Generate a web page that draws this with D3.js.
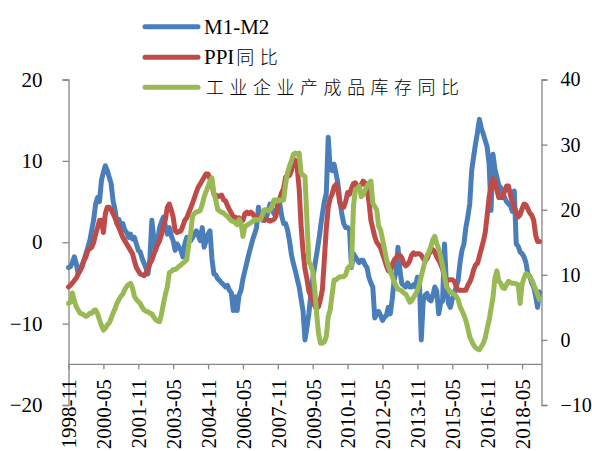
<!DOCTYPE html>
<html>
<head>
<meta charset="utf-8">
<script src="https://cdn.jsdelivr.net/npm/d3@7"></script>
<style>
  html, body { margin: 0; padding: 0; background: #fff; }
  svg { display: block; }
  .tick-label { font-family: "Liberation Serif", "DejaVu Serif", serif; fill: #000; }
</style>
</head>
<body>
<svg id="chart" width="592" height="451"></svg>
<script>
// Monthly series, 1998-11 through 2019-02
const startYear = 1998, startMonth = 11;

// M1 growth minus M2 growth (%), left axis
const m1m2 = [
  -3.1, -3.0,
  -2.5, -1.8, -2.6, -3.9, -3.2, -2.8, -2.2, -1.4, -0.6, 0.2, 1.5, 2.8,
  4.7, 5.5, 5.0, 7.6, 8.6, 9.4, 8.8, 8.0, 7.2, 5.1, 4.0, 2.3,
  2.8, 2.0, 2.3, 1.5, 1.2, 0.6, 1.0, 0.4, 0.6, -0.2, -1.0, -1.2,
  -2.0, -2.6, -3.2, -3.9, -2.0, 2.7, 0.5, -1.0, 0.2, 1.8, 2.5, 3.1,
  2.0, 1.0, 1.8, 0.8, 0.2, -1.0, -0.2, -0.6, -1.0, -1.8, -0.2, 0.6,
  0.2, 0.2, 0.6, 1.0, 1.4, 0.8, 0.2, 1.8, -0.6, 0.2, 1.0, 1.4,
  -2.0, -3.9, -4.0, -4.5, -4.7, -5.0, -5.2, -5.5, -5.3, -5.9, -6.2, -8.4,
  -6.7, -8.4, -6.5, -5.9, -4.5, -3.5, -2.5, -1.5, -0.6, 0.3, 1.0, 1.8,
  4.3, 3.0, 2.7, 2.7, 3.0, 3.8, 4.7, 4.0, 3.5, 3.8, 4.5, 4.7,
  3.2, 2.3, 2.3, 1.5, 0.2, -1.5, -2.6, -3.5, -4.5, -5.5, -7.0, -8.4,
  -12.0, -10.5, -8.8, -6.5, -4.5, -3.0, -1.5, 0.0, 1.8, 3.5, 5.0, 6.0,
  12.9, 9.0, 8.8, 9.6, 8.5, 7.2, 5.1, 3.5, 2.3, 1.8, 1.8, 1.5,
  -3.1, -1.4, -1.8, -2.2, -2.5, -2.2, -2.2, -2.8, -3.1, -4.3, -5.0, -5.5,
  -9.3, -8.8, -8.5, -9.0, -9.6, -9.2, -9.0, -8.0, -8.8, -7.0, -4.7, -3.6,
  -0.6, -3.5, -5.1, -5.3, -5.5, -5.0, -5.5, -5.5, -5.2, -5.5, -4.3, -4.5,
  -12.0, -7.2, -6.5, -6.3, -7.0, -7.2, -6.5, -5.5, -6.0, -8.8, -7.5, -7.2,
  -0.2, -5.5, -7.5, -8.0, -7.0, -6.3, -5.5, -4.7, -2.5, -1.0, -0.2, 1.8,
  3.1, 4.7, 8.8, 10.5, 12.1, 13.5, 15.1, 14.0, 13.3, 12.5, 11.7, 9.6,
  3.9, 10.8, 9.0, 8.0, 7.0, 6.7, 6.0, 5.5, 5.0, 4.7, 4.5, 3.8,
  6.3, -0.2, -0.5, -1.2, -1.4, -1.8, -2.5, -3.9, -4.2, -5.0, -5.5, -6.6,
  -8.0, -6.1
];

// PPI year-on-year (%), left axis
const ppi = [
  -5.5, -5.3,
  -5.0, -4.7, -4.4, -3.9, -3.5, -3.0, -2.2, -1.8, -1.0, -0.8, -0.6, 0.0,
  1.0, 1.8, 2.7, 2.7, 1.2, 3.5, 4.3, 4.3, 4.0, 3.5, 3.0, 2.3,
  1.8, 1.2, 0.6, 0.2, -0.2, -0.6, -1.0, -1.4, -2.3, -3.1, -3.5, -3.9,
  -4.0, -4.1, -3.8, -3.3, -2.6, -2.2, -1.5, -0.8, -0.3, 0.2, 1.0, 2.0,
  2.8, 4.3, 4.7, 4.0, 3.1, 1.4, 1.2, 1.3, 1.4, 2.0, 2.7, 3.0,
  3.6, 4.2, 4.8, 5.5, 6.2, 6.8, 7.2, 7.6, 8.0, 8.4, 8.4, 7.8,
  7.1, 5.9, 5.8, 5.6, 5.7, 5.8, 5.2, 5.1, 4.5, 4.0, 3.6, 3.1,
  3.1, 2.9, 3.0, 2.5, 2.7, 3.5, 3.7, 3.5, 3.7, 3.5, 3.1, 2.9,
  3.1, 3.3, 2.9, 2.7, 2.8, 2.7, 2.6, 2.7, 2.8, 3.2, 4.6, 5.4,
  6.1, 6.6, 8.0, 8.1, 8.2, 8.8, 10.0, 10.1, 9.1, 6.6, 2.0, -1.1,
  -3.3, -4.5, -6.0, -6.6, -7.2, -7.8, -8.2, -7.9, -7.0, -5.8, -2.1, 1.7,
  4.3, 5.4, 5.9, 6.8, 7.1, 6.4, 4.8, 4.3, 4.3, 5.0, 6.1, 5.9,
  6.6, 7.2, 7.3, 6.8, 6.8, 7.1, 7.5, 7.3, 6.5, 5.0, 2.7, 1.7,
  0.7, 0.0, -0.3, -0.7, -1.4, -2.1, -2.9, -3.5, -3.6, -2.8, -2.2, -1.9,
  -1.6, -1.6, -1.9, -2.6, -2.9, -2.7, -2.3, -1.6, -1.3, -1.5, -1.4, -1.4,
  -1.6, -2.0, -2.3, -2.0, -1.4, -1.1, -0.9, -1.2, -1.8, -2.2, -2.7, -3.3,
  -4.3, -4.8, -4.6, -4.6, -4.6, -4.8, -5.4, -5.9, -5.9, -5.9, -5.9, -5.9,
  -5.3, -4.9, -4.3, -3.4, -2.8, -2.6, -1.7, -0.8, 0.1, 1.2, 3.3, 5.5,
  6.9, 7.8, 7.6, 6.4, 5.5, 5.5, 5.5, 6.3, 6.9, 6.9, 5.8, 4.9,
  4.3, 3.7, 3.1, 3.4, 4.1, 4.7, 4.6, 4.1, 3.6, 3.3, 2.7, 0.9,
  0.1, 0.1
];

// Industrial finished-goods inventory year-on-year (%), right axis
const inventory = [
  5.6, 5.8,
  7.2, 6.0, 5.1, 4.6, 4.1, 4.0, 3.8, 3.6, 3.8, 4.1, 4.1, 4.5,
  4.6, 4.0, 3.1, 2.2, 1.5, 1.8, 2.3, 2.6, 3.3, 4.1, 4.8, 5.6,
  6.2, 6.7, 7.0, 7.7, 8.2, 8.5, 8.7, 8.0, 6.7, 6.2, 5.9, 5.6,
  5.0, 4.6, 4.4, 4.3, 4.1, 4.0, 3.5, 3.1, 2.9, 2.8, 4.0, 5.6,
  7.0, 8.2, 10.3, 10.5, 10.8, 10.8, 11.0, 11.3, 11.5, 11.8, 12.0, 12.3,
  14.5, 16.4, 19.0, 19.4, 19.7, 19.7, 19.9, 20.8, 22.0, 22.8, 23.6, 24.4,
  24.9, 22.5, 21.5, 20.0, 19.8, 19.6, 19.5, 19.2, 19.0, 18.6, 18.3, 18.2,
  18.0, 17.7, 18.5, 18.0, 15.9, 17.4, 17.6, 17.8, 18.0, 18.2, 18.5, 18.4,
  18.5, 18.5, 19.2, 20.0, 20.0, 19.8, 20.0, 20.5, 21.5, 21.5, 21.3, 21.5,
  21.4, 21.5, 24.0, 25.6, 26.7, 27.5, 28.5, 28.7, 28.5, 28.7, 25.6, 25.3,
  25.1, 18.5, 12.0, 11.5, 10.5, 8.0, 4.1, 1.0, -0.5, -0.5, -0.3, 0.5,
  3.6, 4.6, 7.0, 9.2, 9.2, 9.5, 9.7, 9.7, 9.7, 10.0, 11.0, 11.3,
  11.3, 20.5, 23.1, 23.3, 23.6, 22.0, 22.3, 23.0, 23.6, 24.1, 24.4, 21.0,
  20.5, 20.0, 17.5, 16.9, 15.5, 14.0, 12.5, 11.3, 10.5, 9.8, 8.9, 8.3,
  7.8, 7.7, 7.5, 7.2, 7.0, 6.5, 5.8, 6.0, 6.5, 7.0, 7.6, 8.5,
  9.8, 11.0, 12.2, 13.0, 13.5, 14.4, 15.4, 15.9, 14.8, 14.0, 12.8, 11.3,
  9.8, 8.2, 7.8, 7.3, 7.2, 7.0, 6.7, 6.2, 5.1, 4.5, 3.8, 3.0,
  1.8, 0.5, -0.2, -0.8, -1.2, -1.4, -1.5, -1.0, -0.5, 0.3, 1.8, 3.0,
  4.8, 6.5, 9.5, 10.6, 9.0, 8.7, 8.0, 7.9, 8.5, 9.0, 8.8, 8.7,
  8.7, 8.6, 8.5, 5.6, 8.5, 9.5, 10.2, 10.0, 9.7, 9.2, 8.5, 7.7,
  7.0, 6.2
];

const leftTicks = [-20, -10, 0, 10, 20];
const rightTicks = [-10, 0, 10, 20, 30, 40];
const labelEvery = 18; // a date label every 18 months
const seriesNames = ["M1-M2", "PPI同比", "工业企业产成品库存同比"];
const seriesColors = ["#4a7ebb", "#be4b48", "#98b954"];

// month labels
const months = m1m2.map((_, i) => {
  const t = startYear * 12 + (startMonth - 1) + i;
  const y = Math.floor(t / 12), m = (t % 12) + 1;
  return `${y}-${String(m).padStart(2, "0")}`;
});

const svg = d3.select("#chart");
const axisColor = "#868686";
const plotLeft = 68.5, plotRight = 539.5, rightAxisX = 541.5;
const plotTop = 79.5, plotBottom = 405;

const x = d3.scaleLinear().domain([0, months.length - 1]).range([plotLeft, plotRight]);
const yL = d3.scaleLinear().domain([-20, 20]).range([plotBottom, plotTop]);
const yR = d3.scaleLinear().domain([-10, 40]).range([plotBottom, plotTop]);

// left axis
const leftAxis = d3.axisLeft(yL).tickValues(leftTicks).tickSize(6).tickPadding(20).tickFormat(d3.format("d"));
const gL = svg.append("g").attr("transform", `translate(${plotLeft},0)`).call(leftAxis);

// right axis
const rightAxis = d3.axisRight(yR).tickValues(rightTicks).tickSize(6).tickPadding(13).tickFormat(d3.format("d"));
const gR = svg.append("g").attr("transform", `translate(${rightAxisX},0)`).call(rightAxis);

[gL, gR].forEach(g => {
  g.select(".domain").attr("stroke", axisColor).attr("stroke-width", 1.3);
  g.selectAll(".tick line").attr("stroke", axisColor).attr("stroke-width", 1.3);
  g.selectAll(".tick text").attr("class", "tick-label").style("font-size", "21px").attr("fill", "#000");
});
gR.selectAll(".tick text").style("font-size", "20px");

// horizontal category axis crossing the left scale at -15
const xAxisY = yL(-15);
const tickIdx = d3.range(0, months.length, labelEvery);
const xAxis = d3.axisBottom(x).tickValues(tickIdx).tickSize(5).tickFormat(i => months[i]);
const gX = svg.append("g").attr("transform", `translate(0,${xAxisY})`).call(xAxis);
gX.select(".domain").attr("d", `M${plotLeft},0H${rightAxisX}`).attr("stroke", axisColor).attr("stroke-width", 1.3);
gX.selectAll(".tick line").attr("stroke", axisColor).attr("stroke-width", 1.3);
gX.selectAll(".tick text")
  .attr("class", "tick-label")
  .style("font-size", "21px")
  .attr("fill", "#000")
  .attr("text-anchor", "end")
  .attr("dy", "0.35em")
  .attr("transform", "translate(0,15) rotate(-90)")
  .attr("x", 0).attr("y", 0);

// series lines
const lineL = d3.line().x((d, i) => x(i)).y(d => yL(d)).curve(d3.curveLinear);
const lineR = d3.line().x((d, i) => x(i)).y(d => yR(d)).curve(d3.curveLinear);
const series = [
  { data: m1m2, gen: lineL },
  { data: ppi, gen: lineL },
  { data: inventory, gen: lineR }
];
series.forEach((s, k) => {
  svg.append("path")
    .datum(s.data)
    .attr("d", s.gen)
    .attr("fill", "none")
    .attr("stroke", seriesColors[k])
    .attr("stroke-width", 5)
    .attr("stroke-linejoin", "round")
    .attr("stroke-linecap", "round");
});

// legend: Latin runs in a serif face, CJK runs spaced out
const legend = svg.append("g");
const legendY = [26.7, 57.3, 87.3];
seriesNames.forEach((name, k) => {
  legend.append("line")
    .attr("x1", 145).attr("x2", 198)
    .attr("y1", legendY[k]).attr("y2", legendY[k])
    .attr("stroke", seriesColors[k]).attr("stroke-width", 5).attr("stroke-linecap", "round");
  const t = legend.append("text")
    .attr("x", 204).attr("y", legendY[k] + 7)
    .attr("fill", "#000");
  const runs = name.match(/[\u4e00-\u9fff]+|[^\u4e00-\u9fff]+/g);
  runs.forEach(r => {
    const cjk = /[\u4e00-\u9fff]/.test(r);
    t.append("tspan")
      .attr("font-family", cjk ? "'Noto Sans CJK SC', sans-serif" : "'Liberation Serif', serif")
      .style("font-size", cjk ? "18px" : "21px")
      .style("font-weight", cjk ? "300" : "400")
      .style("letter-spacing", cjk ? "5.5px" : "0px")
      .attr("dx", cjk ? 2 : 0)
      .text(r);
  });
});
</script>
</body>
</html>
